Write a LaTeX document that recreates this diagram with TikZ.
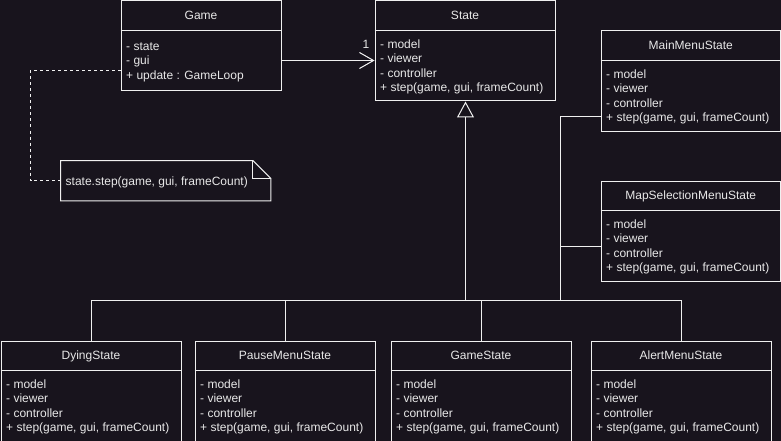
\documentclass[tikz,border=0pt]{standalone}
\usepackage{fontspec}
\setmainfont{Liberation Sans}
\usetikzlibrary{arrows.meta,calc}
\definecolor{bg}{RGB}{24,20,29}
\definecolor{fg}{RGB}{240,240,240}
\definecolor{txt}{RGB}{232,232,232}
\tikzset{
  ln/.style={draw=fg, line width=1pt},
  clsbox/.style={ln, rectangle, inner sep=0pt},
  lbl/.style={inner sep=0pt, text=txt, font=\fontsize{12pt}{14.5pt}\selectfont},
  inherit/.style={ln, -{Triangle[open, length=16pt, width=17pt]}},
  assoc/.style={ln, -{Straight Barb[length=14pt, width=16pt]}},
  notelink/.style={ln, dash pattern=on 3pt off 3pt},
}
\newcommand\umlclass[6]{%
  \node[clsbox, minimum width=#4pt, minimum height=#5pt, anchor=north west] (#1) at (#2,#3) {};
  \draw[ln] ([yshift=-30pt]#1.north west) -- ([yshift=-30pt]#1.north east);
  \node[lbl, anchor=base] (#1-title) at ([yshift=-19.3pt]#1.north) {#6};
}
\newcommand\umlstdbody[1]{%
  \foreach \t [count=\i from 0] in {- model, - viewer, - controller, {+ step(game, gui, frameCount)}} {
    \node[lbl, anchor=base west] (#1-l\i) at ([xshift=5.5pt, yshift={-(47.8+\i*14.5)*1pt}]#1.north west) {\t};
  }
}
\begin{document}
\begin{tikzpicture}[x=1pt,y=-1pt]
\fill[bg] (0,0) rectangle (781,441);
\useasboundingbox (0,0) rectangle (781,441);

% classes
\umlclass{game}{120.5}{0.5}{160}{90}{Game}
\foreach \t [count=\i from 0] in {- state, - gui, + update : GameLoop} {
  \node[lbl, anchor=base west] (game-l\i) at ([xshift=5.5pt, yshift={-(49.6+\i*14.7)*1pt}]game.north west) {\t};
}
\umlclass{state}{374.5}{0.5}{180}{100}{State}
\umlstdbody{state}
\umlclass{mainmenu}{600.5}{30.5}{179.5}{100}{MainMenuState}
\umlstdbody{mainmenu}
\umlclass{mapsel}{600.5}{180.5}{179.5}{100}{MapSelectionMenuState}
\umlstdbody{mapsel}
\umlclass{dying}{0.5}{340.5}{180}{100}{DyingState}
\umlstdbody{dying}
\umlclass{pause}{194.5}{340.5}{180}{100}{PauseMenuState}
\umlstdbody{pause}
\umlclass{gamestate}{390.5}{340.5}{180}{100}{GameState}
\umlstdbody{gamestate}
\umlclass{alert}{590.5}{340.5}{180}{100}{AlertMenuState}
\umlstdbody{alert}

% note
\node[inner sep=0pt, minimum width=210pt, minimum height=40pt, anchor=north west] (note) at (60.5,160.5) {};
\draw[ln] (note.north west) -- ([xshift=-18pt]note.north east) -- ([yshift=-18pt]note.north east)
  -- (note.south east) -- (note.south west) -- cycle;
\draw[ln] ([xshift=-18pt]note.north east) -- ([xshift=-18pt,yshift=-18pt]note.north east) -- ([yshift=-18pt]note.north east);
\node[lbl, anchor=base west] (notetext) at ([xshift=5pt, yshift=-4.3pt]note.west) {state.step(game, gui, frameCount)};
\draw[notelink] ([yshift=-70pt]game.north west) -| ([xshift=-30pt]note.west) -- (note.west);

% association
\draw[assoc] ([yshift=-60pt]game.north east) -- ([yshift=-60pt]state.north west);
\node[lbl] (mult) at ([xshift=-8.5pt, yshift=-44pt]state.north west) {1};

% inheritance
\coordinate (junc) at (465.5,300.5);
\coordinate (bus) at (560.5,300.5);
\draw[ln] (dying.north) |- (junc);
\draw[ln] (pause.north) |- (junc);
\draw[ln] (gamestate.north) |- (junc);
\draw[ln] (alert.north) |- (junc);
\draw[ln] ([yshift=-86pt]mainmenu.north west) -| (bus) -- (junc);
\draw[ln] ([yshift=-66pt]mapsel.north west) -| (bus);
\draw[inherit] (junc) -- (junc |- state.south);
\end{tikzpicture}
\end{document}
